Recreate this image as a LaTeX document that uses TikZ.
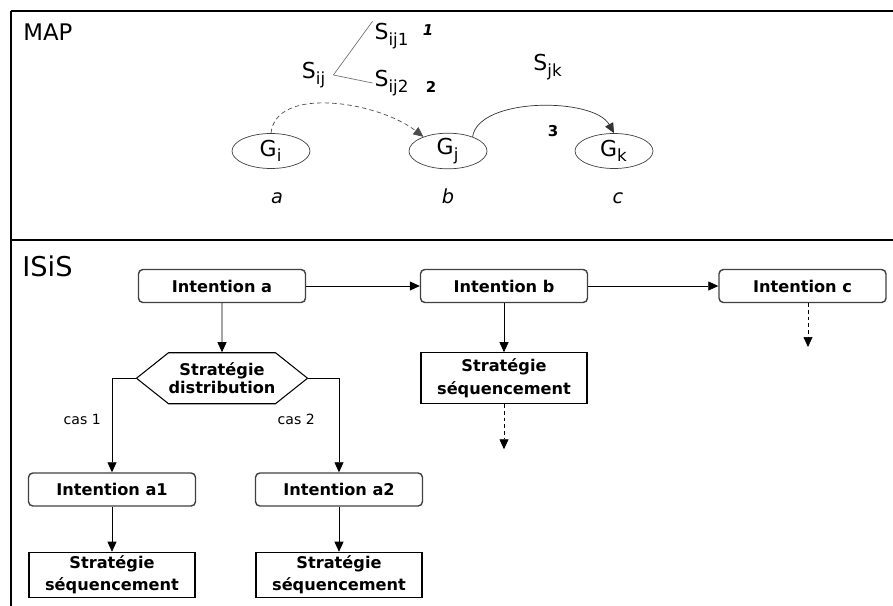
\documentclass[tikz,border=0pt]{standalone}
\usepackage{fontspec}
\setmainfont{DejaVu Sans}
\usepackage{tikz}
\usetikzlibrary{arrows.meta,positioning,shapes.geometric,shapes.symbols,calc}

\newcommand{\idx}[1]{\textsubscript{\fontsize{9.5}{9.5}\selectfont #1}}

\begin{document}
\begin{tikzpicture}[
    every node/.style={font=\fontsize{12.5}{14}\selectfont},
    goal/.style={draw=black!75, ellipse, minimum width=1.56cm, minimum height=0.70cm, inner sep=0pt},
    sname/.style={inner sep=1pt},
    lbl/.style={anchor=base, font=\fontsize{11}{13}\selectfont\itshape},
    num/.style={font=\fontsize{8.5}{9}\selectfont\bfseries},
    intent/.style={draw=black!75, line width=0.8pt, rounded corners=2.5pt, minimum width=3.34cm, minimum height=0.66cm, inner sep=0pt, font=\fontsize{9.2}{11}\selectfont\bfseries},
    strat/.style={draw, line width=0.6pt, minimum width=3.32cm, inner sep=0pt, align=center, font=\fontsize{9.2}{12.8}\selectfont\bfseries},
    cas/.style={font=\fontsize{8}{9}\selectfont},
    arr/.style={-{Triangle[length=2mm,width=1.8mm]}},
  ]
  \useasboundingbox (0,0) rectangle (17.86,-12.12);

  % frame
  \draw[line width=1.6pt] (0.22,-0.22) -- (17.86,-0.22);
  \draw[line width=1pt] (0.22,-0.22) -- (0.22,-12.12);
  \draw[line width=0.8pt] (0.22,-4.80) -- (17.86,-4.80);

  \node[anchor=north west, inner sep=0pt, font=\fontsize{13}{15}\selectfont] (map) at (0.46,-0.46) {MAP};
  \node[anchor=north west, inner sep=0pt, font=\fontsize{15.5}{17}\selectfont] (isis) at (0.44,-5.10) {ISiS};

  % MAP
  \node[goal] (gi) at (5.42,-3.02) {G\idx{i}};
  \node[goal] (gj) at (8.96,-3.02) {G\idx{j}};
  \node[goal] (gk) at (12.28,-3.02) {G\idx{k}};
  \node[lbl] (la) at (5.54,-4.06) {a};
  \node[lbl] (lb) at (8.96,-4.06) {b};
  \node[lbl] (lc) at (12.36,-4.06) {c};

  \node[sname] (sij) at (6.28,-1.50) {S\idx{ij}};
  \node[sname] (sij1) at (7.84,-0.72) {S\idx{ij1}};
  \node[sname] (sij2) at (7.84,-1.66) {S\idx{ij2}};
  \node[sname] (sjk) at (10.96,-1.34) {S\idx{jk}};
  \node[num] (n1) at (8.56,-0.60) {\itshape 1};
  \node[num] (n2) at (8.62,-1.74) {2};
  \node[num] (n3) at (11.06,-2.62) {3};

  \draw[black!55] ([xshift=3pt]sij.east) -- (sij1.north west);
  \draw[black!55] ([xshift=3pt]sij.east) -- (sij2.west);
  \draw[black!70, dash pattern=on 2.5pt off 1.8pt, arr] (gi.north) .. controls +(0.10,0.96) and +(-0.9,0.7) .. (gj.150);
  \draw[black!80, arr] (gj.30) .. controls +(0.12,0.8) and +(-0.4,0.72) .. (gk.north);

  % ISiS
  \node[intent] (ia) at (4.44,-5.72) {Intention a};
  \node[intent] (ib) at (10.08,-5.72) {Intention b};
  \node[intent] (ic) at (16.05,-5.72) {Intention c};
  \node[draw, line width=0.6pt, signal, signal to=west and east, signal pointer angle=77, minimum width=3.3cm, minimum height=1.02cm, inner sep=0pt, align=center, font=\fontsize{9.2}{9.8}\selectfont\bfseries, below=0.98cm of ia] (sd) {Stratégie\\distribution};
  \node[strat, minimum height=1.02cm, below=0.98cm of ib] (sb) {Stratégie\\séquencement};
  \node[intent] (ia1) at (2.24,-9.79) {Intention a1};
  \node[intent] (ia2) at (6.78,-9.79) {Intention a2};
  \node[strat, minimum height=0.90cm, below=0.90cm of ia1] (sa1) {Stratégie\\séquencement};
  \node[strat, minimum height=0.90cm, below=0.90cm of ia2] (sa2) {Stratégie\\séquencement};
  \coordinate[below=0.90cm of sb] (sbnext);
  \coordinate (icnext) at (16.16,-6.94);

  \draw[arr] (ia) -- (ib);
  \draw[arr] (ib) -- (ic);
  \draw[arr] (ia) -- (sd);
  \draw[arr] (ib) -- (sb);
  \draw[arr] (sd.west) -| node[cas, pos=0.72, left=0.1cm] {cas 1} (ia1.north);
  \draw[arr] (sd.east) -| node[cas, pos=0.72, left=0.36cm] {cas 2} (ia2.north);
  \draw[arr] (ia1) -- (sa1);
  \draw[arr] (ia2) -- (sa2);
  \draw[arr, dash pattern=on 2.2pt off 1.6pt] (sb) -- (sbnext);
  \draw[arr, dash pattern=on 2.2pt off 1.6pt] (icnext |- ic.south) -- (icnext);
\end{tikzpicture}
\end{document}
